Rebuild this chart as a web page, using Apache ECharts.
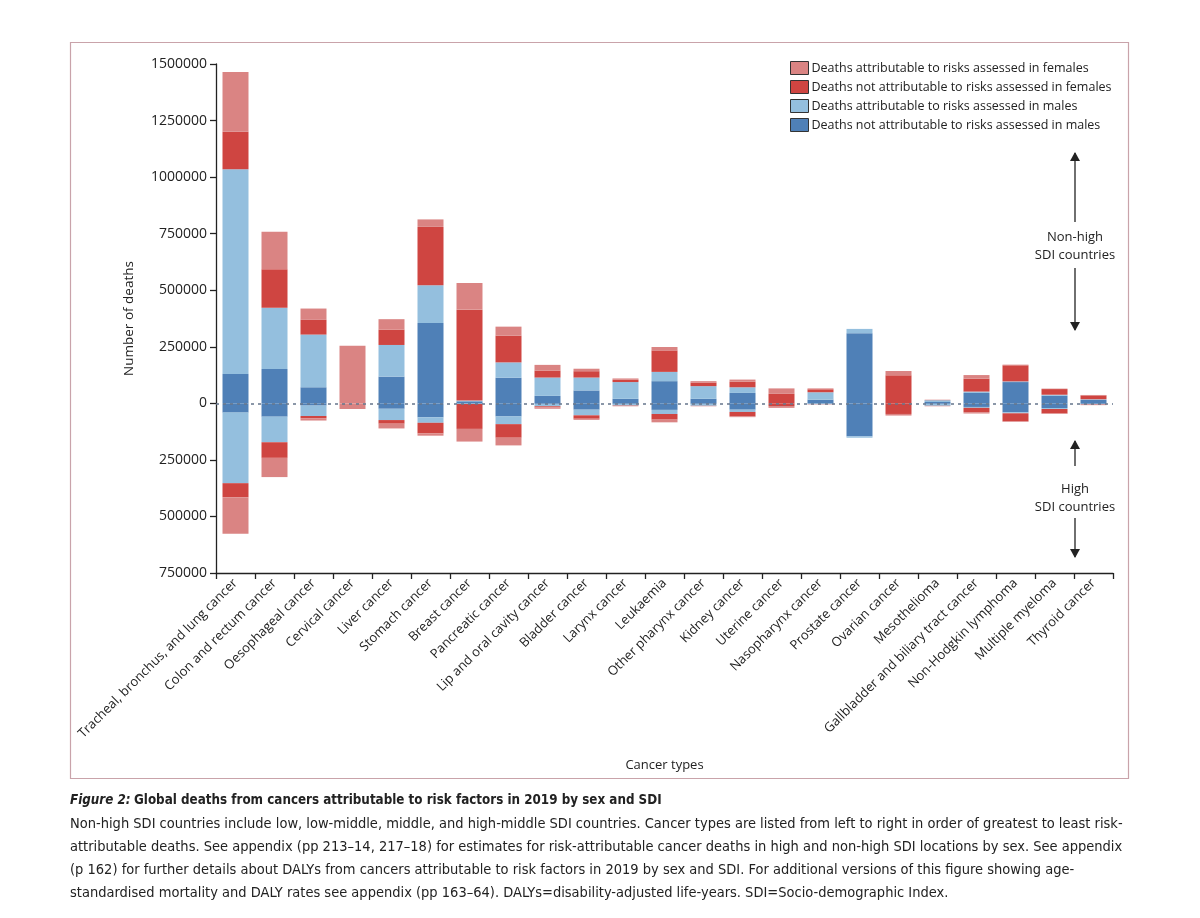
<!DOCTYPE html>
<html>
<head>
<meta charset="utf-8">
<script src="https://cdn.jsdelivr.net/npm/echarts@6/dist/echarts.min.js"></script>
<style>
html,body{margin:0;padding:0;background:#fff;}
#chart{width:1200px;height:918px;}
</style>
</head>
<body>
<div id="chart"></div>
<script>
var categories = ["Tracheal, bronchus, and lung cancer","Colon and rectum cancer","Oesophageal cancer","Cervical cancer","Liver cancer","Stomach cancer","Breast cancer","Pancreatic cancer","Lip and oral cavity cancer","Bladder cancer","Larynx cancer","Leukaemia","Other pharynx cancer","Kidney cancer","Uterine cancer","Nasopharynx cancer","Prostate cancer","Ovarian cancer","Mesothelioma","Gallbladder and biliary tract cancer","Non-Hodgkin lymphoma","Multiple myeloma","Thyroid cancer"];

// Non-high SDI countries (plotted upward)
var maleNotAttrNonHigh = [130000,152000,71000,0,118000,355000,9000,113000,33000,57000,20000,98000,20000,46000,0,16000,310000,0,6000,46000,94000,34000,15000];
var maleAttrNonHigh    = [905000,271000,233000,0,140000,167000,3000,68000,81000,57000,74000,41000,56000,25000,0,33000,19000,0,8000,6000,3000,4000,3000];
var femNotAttrNonHigh  = [165000,170000,65000,0,68000,258000,402000,118000,31000,28000,10000,95000,16000,25000,42000,13000,0,124000,1000,57000,71000,25000,17000];
var femAttrNonHigh     = [265000,165000,50000,254000,46000,33000,118000,40000,25000,11000,6000,15000,6000,9000,24000,4000,0,19000,1000,16000,3000,2000,2000];

// High SDI countries (plotted downward)
var maleNotAttrHigh = [-41000,-59000,-10000,0,-24000,-62000,-2000,-58000,-3000,-28000,-3000,-29000,-3000,-28000,0,-2000,-146000,0,-3000,-16000,-40000,-21000,-3000];
var maleAttrHigh    = [-312000,-113000,-46000,0,-50000,-24000,-1000,-34000,-10000,-25000,-7000,-18000,-8000,-10000,0,-2000,-6000,0,-8000,-4000,-4000,-4000,-2000];
var femNotAttrHigh  = [-62000,-69000,-10000,0,-16000,-47000,-110000,-60000,-5000,-15000,-2000,-25000,-1000,-19000,-12000,-1000,0,-47000,-1000,-19000,-35000,-19000,-2000];
var femAttrHigh     = [-162000,-85000,-10000,-25000,-21000,-10000,-56000,-34000,-6000,-5000,-1000,-12000,-1000,-4000,-8000,0,0,-7000,-1000,-6000,-3000,-3000,-1000];

var yTicks = [-750000,-500000,-250000,0,250000,500000,750000,1000000,1250000,1500000];

var NAME_FA = "Deaths attributable to risks assessed in females";
var NAME_FN = "Deaths not attributable to risks assessed in females";
var NAME_MA = "Deaths attributable to risks assessed in males";
var NAME_MN = "Deaths not attributable to risks assessed in males";
var C_FA = "#da8483", C_FN = "#cf4541", C_MA = "#94bfde", C_MN = "#4f80b7";

var FONT = "Open Sans";
var chart = echarts.init(document.getElementById('chart'), null, {renderer:'canvas'});

function bar(name, data, color){
  return {name:name, type:'bar', stack:'all', data:data, barWidth:26,
    itemStyle:{color:color}, emphasis:{disabled:true}};
}
var series = [
  bar(NAME_MN, maleNotAttrNonHigh, C_MN),
  bar(NAME_MA, maleAttrNonHigh, C_MA),
  bar(NAME_FN, femNotAttrNonHigh, C_FN),
  bar(NAME_FA, femAttrNonHigh, C_FA),
  bar(NAME_MN, maleNotAttrHigh, C_MN),
  bar(NAME_MA, maleAttrHigh, C_MA),
  bar(NAME_FN, femNotAttrHigh, C_FN),
  bar(NAME_FA, femAttrHigh, C_FA)
];
series[7].markLine = {silent:true, symbol:'none', label:{show:false},
  lineStyle:{type:[3,4], color:'#66768c', width:1.6}, data:[{yAxis:0}]};

function arrow(x, y1, y2, up){
  var els = [{type:'line', shape:{x1:x,y1:y1,x2:x,y2:y2}, style:{stroke:'#222', lineWidth:1.3}}];
  if (up) els.push({type:'polygon', shape:{points:[[x-5,y1+8],[x+5,y1+8],[x,y1-1]]}, style:{fill:'#222'}});
  else els.push({type:'polygon', shape:{points:[[x-5,y2-8],[x+5,y2-8],[x,y2+1]]}, style:{fill:'#222'}});
  return els;
}

var graphics = [
  {type:'rect', shape:{x:70.5,y:42.5,width:1058,height:736}, style:{fill:'none', stroke:'#c9a3aa', lineWidth:1.2}, z:-1}
];
graphics = graphics.concat(arrow(1075,153,222,true), arrow(1075,268,330,false), arrow(1075,441,466,true), arrow(1075,518,557,false));
graphics.push({type:'text', x:1075, y:246, style:{text:'Non-high\nSDI countries', font:'13px "'+FONT+'"', fill:'#222', align:'center', verticalAlign:'middle', lineHeight:18}});
graphics.push({type:'text', x:1075, y:498, style:{text:'High\nSDI countries', font:'13px "'+FONT+'"', fill:'#222', align:'center', verticalAlign:'middle', lineHeight:18}});

var CAP = '"Liberation Sans Narrow", "DejaVu Sans Condensed", sans-serif';
graphics.push({type:'text', x:70, y:801, style:{
  text:'{i|Figure 2:} {b|Global deaths from cancers attributable to risk factors in 2019 by sex and SDI}',
  verticalAlign:'middle',
  rich:{i:{fontFamily:CAP, fontSize:13.3, fontStyle:'italic', fontWeight:'bold', fill:'#222'},
        b:{fontFamily:CAP, fontSize:13.3, fontWeight:'bold', fill:'#222'}}}});
var capLines = [
 'Non-high SDI countries include low, low-middle, middle, and high-middle SDI countries. Cancer types are listed from left to right in order of greatest to least risk-',
 'attributable deaths. See appendix (pp 213\u201314, 217\u201318) for estimates for risk-attributable cancer deaths in high and non-high SDI locations by sex. See appendix',
 '(p 162) for further details about DALYs from cancers attributable to risk factors in 2019 by sex and SDI. For additional versions of this figure showing age-',
 'standardised mortality and DALY rates see appendix (pp 163\u201364). DALYs=disability-adjusted life-years. SDI=Socio-demographic Index.'
];
capLines.forEach(function(t,i){
  graphics.push({type:'text', x:70, y:824+i*23, style:{text:t, font:'14.5px '+CAP, fill:'#222', verticalAlign:'middle'}});
});

var option = {
  animation:false,
  backgroundColor:'#fff',
  textStyle:{fontFamily:FONT},
  legend:{
    data:[NAME_FA, NAME_FN, NAME_MA, NAME_MN],
    orient:'vertical', left:785, top:56, itemGap:5, itemWidth:18, itemHeight:13,
    icon:'rect', selectedMode:false,
    itemStyle:{borderColor:'#333', borderWidth:1},
    textStyle:{fontFamily:FONT, fontSize:12.5, color:'#222', padding:[0,0,0,-2]}
  },
  grid:{left:216, right:87, top:64, bottom:345, containLabel:false},
  xAxis:{
    type:'category', data:categories, position:'bottom',
    axisLine:{onZero:false, lineStyle:{color:'#222', width:1.3}},
    axisTick:{show:true, alignWithLabel:false, length:6, lineStyle:{color:'#222', width:1.3}},
    axisLabel:{rotate:45, interval:0, fontSize:13, color:'#222', fontFamily:FONT, margin:8},
    name:'Cancer types', nameLocation:'middle', nameGap:186,
    nameTextStyle:{fontSize:13, color:'#222', fontFamily:FONT}
  },
  yAxis:{
    type:'value', min:yTicks[0], max:yTicks[yTicks.length-1], interval:250000,
    splitLine:{show:false},
    axisLine:{show:true, lineStyle:{color:'#222', width:1.3}},
    axisTick:{show:true, length:6, lineStyle:{color:'#222', width:1.3}},
    axisLabel:{fontSize:14, color:'#222', fontFamily:FONT, margin:9,
      formatter:function(v){return String(Math.abs(v));}},
    name:'Number of deaths', nameLocation:'middle', nameGap:80, nameRotate:90,
    nameTextStyle:{fontSize:13.5, color:'#222', fontFamily:FONT}
  },
  series:series,
  graphic:graphics
};
chart.setOption(option);
</script>
</body>
</html>
